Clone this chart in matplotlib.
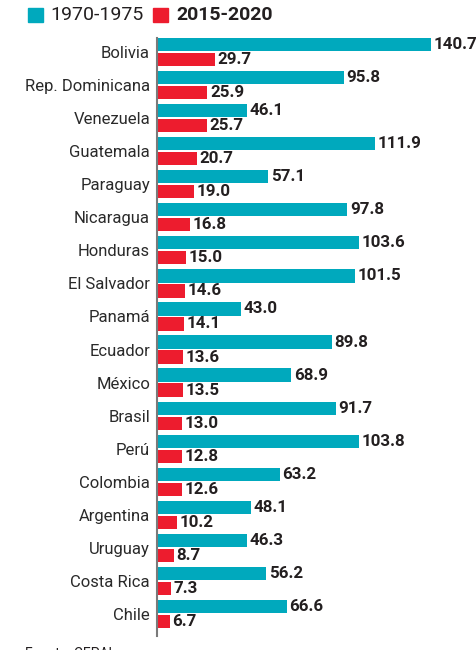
import matplotlib
matplotlib.use('Agg')
import matplotlib.pyplot as plt
import numpy as np

paises = ['Bolivia', 'Rep. Dominicana', 'Venezuela', 'Guatemala', 'Paraguay',
          'Nicaragua', 'Honduras', 'El Salvador', 'Panamá', 'Ecuador', 'México',
          'Brasil', 'Perú', 'Colombia', 'Argentina', 'Uruguay', 'Costa Rica', 'Chile']
v1970 = [140.7, 95.8, 46.1, 111.9, 57.1, 97.8, 103.6, 101.5, 43.0, 89.8, 68.9,
         91.7, 103.8, 63.2, 48.1, 46.3, 56.2, 66.6]
v2015 = [29.7, 25.9, 25.7, 20.7, 19.0, 16.8, 15.0, 14.6, 14.1, 13.6, 13.5,
         13.0, 12.8, 12.6, 10.2, 8.7, 7.3, 6.7]

TEAL = '#00a9bd'
RED = '#ed1c2e'
INK = '#231f20'
FONT = ['Roboto', 'DejaVu Sans']

fig = plt.figure(figsize=(4.77, 6.5), dpi=100)
ax = fig.add_axes([157 / 477, 14 / 650, 1 - 157 / 477, 598 / 650])

y = np.arange(len(paises))
off = 0.227
h = 0.40
ax.barh(y - off, v1970, height=h, color=TEAL)
ax.barh(y + off, v2015, height=h, color=RED)

for yi, a, b in zip(y, v1970, v2015):
    ax.text(a + 1.3, yi - off, f'{a:.1f}', va='center', ha='left', fontsize=12.2,
            fontweight='bold', color=INK, family=FONT, clip_on=False)
    ax.text(b + 1.3, yi + off, f'{b:.1f}', va='center', ha='left', fontsize=12.2,
            fontweight='bold', color=INK, family=FONT, clip_on=False)

ax.set_xlim(0, 164.3)
ax.set_ylim(17.665, -0.423)
ax.set_yticks(y)
ax.set_yticklabels(paises, fontsize=12, color='#2a2a2a', family=FONT)
ax.tick_params(axis='y', length=0, pad=5)
ax.set_xticks([])
for s in ['top', 'right', 'bottom']:
    ax.spines[s].set_visible(False)
ax.spines['left'].set_color('#7a7a7a')
ax.spines['left'].set_linewidth(1.5)

# leyenda
fig.patches.append(plt.Rectangle((28 / 477, 1 - 22 / 650), 15 / 477, 14 / 650,
                                 transform=fig.transFigure, color=TEAL))
fig.text(50 / 477, 1 - 15 / 650, '1970-1975', va='center', ha='left', fontsize=14,
         color=INK, family=FONT)
fig.patches.append(plt.Rectangle((153 / 477, 1 - 22 / 650), 15 / 477, 14 / 650,
                                 transform=fig.transFigure, color=RED))
fig.text(176 / 477, 1 - 15 / 650, '2015-2020', va='center', ha='left', fontsize=14,
         color=INK, family=FONT, fontweight='bold')

fig.text(25 / 477, 1 - 647 / 650, 'Fuente: CEPAL', va='top', ha='left', fontsize=10,
         color=INK, family=FONT)

fig.savefig('out.png', dpi=100)
